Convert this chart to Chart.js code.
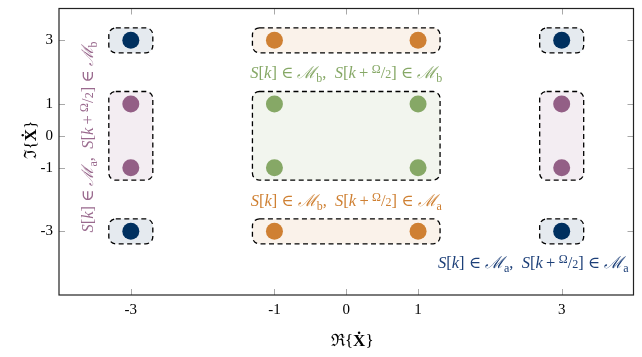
<!DOCTYPE html>
<html lang="en">
<head>
    <meta charset="UTF-8">
    <title>Constellation Regions</title>
    <script src="https://cdn.jsdelivr.net/npm/chart.js"></script>
    <style>
        html, body { margin: 0; padding: 0; background: #fff; }
        #wrap { width: 642px; height: 357px; }
    </style>
</head>
<body>
<div id="wrap"><canvas id="constChart"></canvas></div>
<script>
    // axis ticks
    const xTicks = [-3, -1, 0, 1, 3];
    const yTicks = [-3, -1, 0, 1, 3];

    // symbol positions, one list per pair of sub-constellations
    const navyPts   = [{x: -3, y: 3}, {x: 3, y: 3}, {x: -3, y: -3}, {x: 3, y: -3}];
    const orangePts = [{x: -1, y: 3}, {x: 1, y: 3}, {x: -1, y: -3}, {x: 1, y: -3}];
    const greenPts  = [{x: -1, y: 1}, {x: 1, y: 1}, {x: -1, y: -1}, {x: 1, y: -1}];
    const purplePts = [{x: -3, y: 1}, {x: -3, y: -1}, {x: 3, y: 1}, {x: 3, y: -1}];

    // which points share a dashed box
    const navyGroups   = [[0], [1], [2], [3]];
    const orangeGroups = [[0, 1], [2, 3]];
    const greenGroups  = [[0, 1, 2, 3]];
    const purpleGroups = [[0, 1], [2, 3]];

    const navy = '#00305f', orange = '#cf8033', green = '#86a866', purple = '#935f86';
    const fills = ['rgba(0,48,95,0.10)', 'rgba(207,128,51,0.10)', 'rgba(134,168,102,0.11)', 'rgba(147,95,134,0.11)'];

    const SERIF = '"Liberation Serif", "DejaVu Serif", serif';
    const FS = 16.5;

    // pieces of an "S[k] ∈ M_x, S[k + Ω/2] ∈ M_y" label
    function setLabel(a, b) {
        return [
            ['S', 'it'], ['[', 'rm'], ['k', 'it'], [']', 'rm'], [' \u2208 ', 'rm'], ['\u2133', 'cal'], [a, 'sub'],
            [',  ', 'rm'],
            ['S', 'it'], ['[', 'rm'], ['k', 'it'], ['\u2009+\u2009', 'rm'], ['\u03A9', 'sup'], ['/', 'rm'], ['2', 'small'], [']', 'rm'],
            [' \u2208 ', 'rm'], ['\u2133', 'cal'], [b, 'sub']
        ];
    }

    function runFont(kind, size) {
        switch (kind) {
            case 'it': return `italic ${size}px ${SERIF}`;
            case 'bf': return `bold ${size}px ${SERIF}`;
            case 'cal': return `italic ${size}px "DejaVu Serif", serif`;
            case 'frak': return `${size}px "DejaVu Serif", serif`;
            case 'sub': case 'sup': case 'small': return `${Math.round(size * 0.72)}px ${SERIF}`;
            default: return `${size}px ${SERIF}`;
        }
    }
    function runShift(kind, size) {
        if (kind === 'sub') return size * 0.22;
        if (kind === 'sup') return -size * 0.3;
        return 0;
    }
    function runsWidth(ctx, runs, size) {
        let w = 0;
        runs.forEach(([t, k]) => { ctx.font = runFont(k, size); w += ctx.measureText(t).width; });
        return w;
    }
    function drawRuns(ctx, runs, x, y, size, color, align) {
        const w = runsWidth(ctx, runs, size);
        let cx = align === 'center' ? x - w / 2 : align === 'right' ? x - w : x;
        ctx.fillStyle = color;
        ctx.textBaseline = 'alphabetic';
        ctx.textAlign = 'left';
        runs.forEach(([t, k]) => {
            ctx.font = runFont(k, size);
            ctx.fillText(t, cx, y + runShift(k, size));
            cx += ctx.measureText(t).width;
        });
    }

    function roundRect(ctx, x, y, w, h, r) {
        ctx.beginPath();
        ctx.moveTo(x + r, y);
        ctx.arcTo(x + w, y, x + w, y + h, r);
        ctx.arcTo(x + w, y + h, x, y + h, r);
        ctx.arcTo(x, y + h, x, y, r);
        ctx.arcTo(x, y, x + w, y, r);
        ctx.closePath();
    }

    const allGroups = [navyGroups, orangeGroups, greenGroups, purpleGroups];

    const regionBoxes = {
        id: 'regionBoxes',
        beforeDatasetsDraw(chart) {
            const ctx = chart.ctx, xs = chart.scales.x, ys = chart.scales.y;
            const padX = 22, padY = 12.5;
            ctx.save();
            chart.data.datasets.forEach((ds, di) => {
                allGroups[di].forEach(group => {
                    const px = group.map(i => xs.getPixelForValue(ds.data[i].x));
                    const py = group.map(i => ys.getPixelForValue(ds.data[i].y));
                    const x0 = Math.min(...px) - padX, x1 = Math.max(...px) + padX;
                    const y0 = Math.min(...py) - padY, y1 = Math.max(...py) + padY;
                    roundRect(ctx, x0, y0, x1 - x0, y1 - y0, 7);
                    ctx.fillStyle = fills[di];
                    ctx.fill();
                    ctx.setLineDash([5, 3.5]);
                    ctx.lineWidth = 1.3;
                    ctx.strokeStyle = '#000';
                    ctx.stroke();
                });
            });
            ctx.restore();
        }
    };

    const frameAndText = {
        id: 'frameAndText',
        afterDraw(chart) {
            const ctx = chart.ctx, a = chart.chartArea, xs = chart.scales.x, ys = chart.scales.y;
            ctx.save();
            // inward ticks on all four sides
            ctx.strokeStyle = '#a8a8a8';
            ctx.lineWidth = 1;
            ctx.setLineDash([]);
            const tl = 6;
            xTicks.forEach(v => {
                const p = Math.round(xs.getPixelForValue(v)) + 0.5;
                ctx.beginPath();
                ctx.moveTo(p, a.bottom); ctx.lineTo(p, a.bottom - tl);
                ctx.moveTo(p, a.top); ctx.lineTo(p, a.top + tl);
                ctx.stroke();
            });
            yTicks.forEach(v => {
                const p = Math.round(ys.getPixelForValue(v)) + 0.5;
                ctx.beginPath();
                ctx.moveTo(a.left, p); ctx.lineTo(a.left + tl, p);
                ctx.moveTo(a.right, p); ctx.lineTo(a.right - tl, p);
                ctx.stroke();
            });
            // frame
            ctx.strokeStyle = '#222';
            ctx.lineWidth = 1.2;
            ctx.strokeRect(a.left, a.top, a.right - a.left, a.bottom - a.top);

            // set labels
            const cx = xs.getPixelForValue(0);
            drawRuns(ctx, setLabel('b', 'b'), cx, 78, FS, green, 'center');
            drawRuns(ctx, setLabel('b', 'a'), cx, 206, FS, orange, 'center');
            drawRuns(ctx, setLabel('a', 'a'), a.right - 5, 268, FS, '#1c3f78', 'right');
            ctx.save();
            ctx.translate(93, 137);
            ctx.rotate(-Math.PI / 2);
            drawRuns(ctx, setLabel('a', 'b'), 0, 0, FS, '#9a6a8e', 'center');
            ctx.restore();

            // axis titles
            const title = [['\u211C', 'frak'], ['{', 'rm'], ['\u1E8A', 'bf'], ['}', 'rm']];
            drawRuns(ctx, title, (a.left + a.right) / 2 + 6, 346, 17, '#000', 'center');
            const ititle = [['\u2111', 'frak'], ['{', 'rm'], ['\u1E8A', 'bf'], ['}', 'rm']];
            ctx.save();
            ctx.translate(36, 140);
            ctx.rotate(-Math.PI / 2);
            drawRuns(ctx, ititle, 0, 0, 17, '#000', 'center');
            ctx.restore();
            ctx.restore();
        }
    };

    const tickFont = { family: SERIF, size: 15 };

    new Chart(document.getElementById('constChart'), {
        type: 'scatter',
        data: {
            datasets: [
                { data: navyPts, backgroundColor: navy },
                { data: orangePts, backgroundColor: orange },
                { data: greenPts, backgroundColor: green },
                { data: purplePts, backgroundColor: purple }
            ]
        },
        options: {
            responsive: true,
            maintainAspectRatio: false,
            animation: false,
            layout: { padding: { top: 7, right: 7, left: 0, bottom: 0 } },
            elements: { point: { radius: 8.5, borderWidth: 0, hoverRadius: 8.5 } },
            plugins: { legend: { display: false }, tooltip: { enabled: false } },
            scales: {
                x: {
                    type: 'linear', min: -4, max: 4,
                    afterBuildTicks: s => { s.ticks = xTicks.map(v => ({ value: v })); },
                    afterFit: s => { s.height = 62; s.paddingLeft = 0; s.paddingRight = 0; },
                    grid: { display: false, drawTicks: false },
                    border: { display: false },
                    ticks: { padding: 6, color: '#000', font: tickFont, callback: v => String(v) }
                },
                y: {
                    type: 'linear', min: -5, max: 4,
                    afterBuildTicks: s => { s.ticks = yTicks.map(v => ({ value: v })); },
                    afterFit: s => { s.width = 59; s.paddingTop = 0; s.paddingBottom = 0; },
                    grid: { display: false, drawTicks: false },
                    border: { display: false },
                    ticks: { padding: 6, color: '#000', font: tickFont, callback: v => String(v) }
                }
            }
        },
        plugins: [regionBoxes, frameAndText]
    });
</script>
</body>
</html>
